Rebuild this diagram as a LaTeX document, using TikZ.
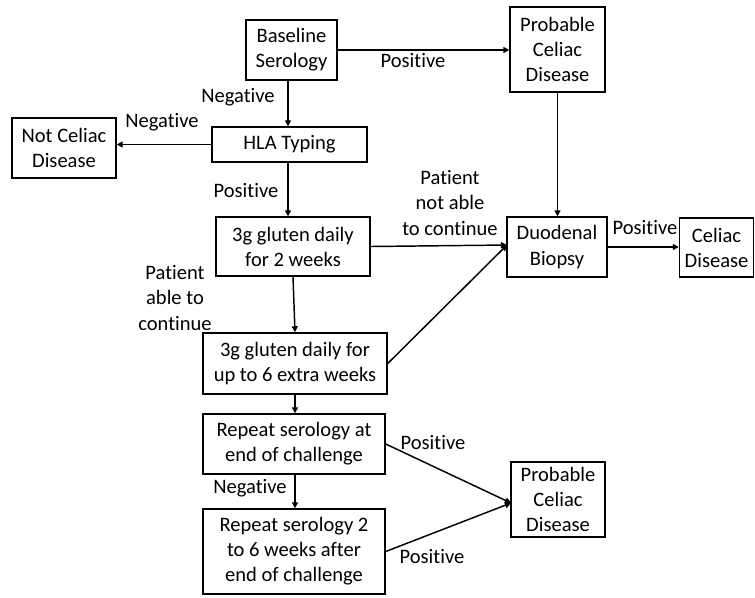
\documentclass[tikz,border=0pt]{standalone}
\usepackage{fontspec}
\setmainfont{Carlito}[Ligatures=NoCommon]
\usetikzlibrary{arrows.meta}
\begin{document}
\begin{tikzpicture}[x=0.75pt,y=-0.75pt,
  every node/.style={font=\fontsize{15.4}{18.8}\selectfont},
  box/.style={draw=black,line width=1.1pt,inner sep=0pt,align=center},
  lbl/.style={inner sep=0pt,align=center},
  arr/.style={line width=1.1pt,-{Triangle[length=4.5pt,width=4.5pt]}}]
\useasboundingbox (0,0) rectangle (755,597);
% boxes
\node[box,minimum width=68.25pt,minimum height=45pt] (base) at (291.5,50) {Baseline\\Serology};
\node[box,minimum width=116.25pt,minimum height=26.25pt] (hla) at (289.5,144.5) {HLA Typing};
\node[box,minimum width=78pt,minimum height=45pt] (notc) at (64,148) {Not Celiac\\Disease};
\node[box,minimum width=115.5pt,minimum height=44.25pt] (g2) at (293,246.5) {3g gluten daily\\for 2 weeks};
\node[box,minimum width=71.25pt,minimum height=63.75pt] (prob1) at (557.5,49.5) {Probable\\Celiac\\Disease};
\node[box,minimum width=75pt,minimum height=45pt] (duo) at (557,247) {Duodenal\\Biopsy};
\node[box,minimum width=55.5pt,minimum height=44.25pt] (cel) at (716.5,247.5) {Celiac\\Disease};
\node[box,minimum width=138pt,minimum height=45.75pt] (g6) at (295,363.5) {3g gluten daily for\\up to 6 extra weeks};
\node[box,minimum width=136.5pt,minimum height=45pt] (rep1) at (294,444) {Repeat serology at\\end of challenge};
\node[box,minimum width=136.5pt,minimum height=63.75pt] (rep2) at (294,551.5) {Repeat serology 2\\to 6 weeks after\\end of challenge};
\node[box,minimum width=70.5pt,minimum height=56.25pt] (prob2) at (558,499.5) {Probable\\Celiac\\Disease};
% connector end points
\coordinate (din) at (507,245);
\coordinate (pin) at (511,503);
% connectors
\draw[arr] (base.east) -- (base.east -| prob1.west);
\draw[arr] (base.south -| 288,0) -- (hla.north -| 288,0);
\draw[arr] (hla.west) -- (hla.west -| notc.east);
\draw[arr] (hla.south -| 288,0) -- (g2.north -| 288,0);
\draw[arr] (prob1.south) -- (prob1.south |- duo.north);
\draw[arr] (g2.east) -- (din);
\draw[arr] (g2.south) -- (g6.north);
\draw[arr] (g6.east) -- (din);
\draw[arr] (g6.south) -- (g6.south |- rep1.north);
\draw[arr] (rep1.south -| 295,0) -- (rep2.north -| 295,0);
\draw[arr] (rep1.east) -- (pin);
\draw[arr] (rep2.east) -- (pin);
\draw[arr] (duo.east) -- (duo.east -| cel.west);
% labels
\node[lbl] (l1) at (413,61) {Positive};
\node[lbl] (l2) at (238,97) {Negative};
\node[lbl] (l3) at (162,122) {Negative};
\node[lbl] (l4) at (246,191) {Positive};
\node[lbl] (l5) at (450,203) {Patient\\not able\\to continue};
\node[lbl] (l6) at (175,298) {Patient\\able to\\continue};
\node[lbl] (l7) at (645,228) {Positive};
\node[lbl] (l8) at (433,442) {Positive};
\node[lbl] (l9) at (250,488) {Negative};
\node[lbl] (l10) at (432,556) {Positive};
\end{tikzpicture}
\end{document}
